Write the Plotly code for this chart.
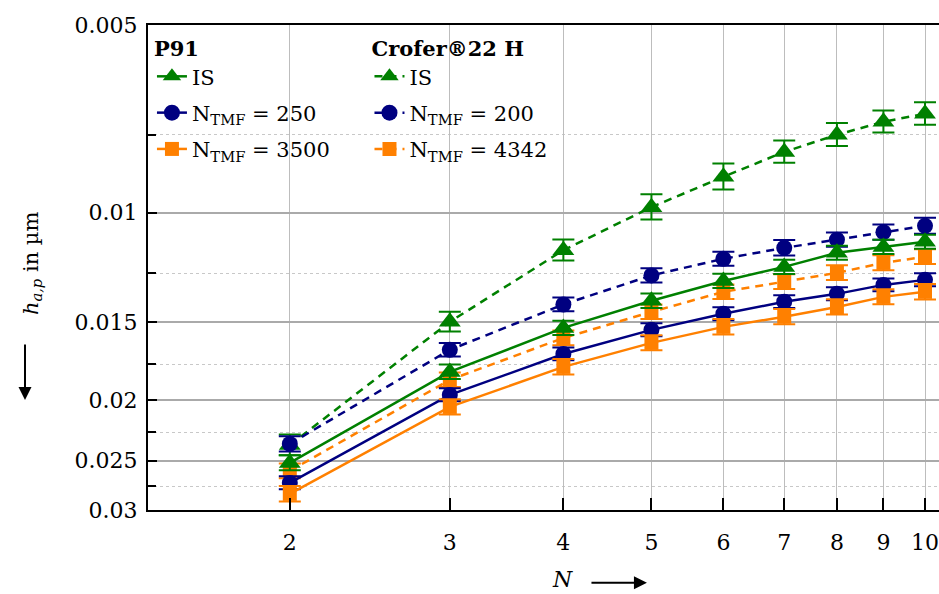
import plotly.graph_objects as go

# ---- data ----
N = [2, 3, 4, 5, 6, 7, 8, 9, 10]

p91_is = [0.02521, 0.01801, 0.01531, 0.01385, 0.01287, 0.01222, 0.01160, 0.01135, 0.01114]
p91_is_err = [0.00070, 0.00048, 0.00040, 0.00037, 0.00034, 0.00032, 0.00030, 0.00030, 0.00029]
p91_250 = [0.02714, 0.01961, 0.01686, 0.01542, 0.01453, 0.01390, 0.01350, 0.01306, 0.01282]
p91_250_err = [0.00065, 0.00047, 0.00040, 0.00037, 0.00035, 0.00033, 0.00032, 0.00031, 0.00031]
p91_3500 = [0.02826, 0.02050, 0.01768, 0.01618, 0.01525, 0.01469, 0.01417, 0.01365, 0.01340]
p91_3500_err = [0.00080, 0.00058, 0.00050, 0.00045, 0.00043, 0.00041, 0.00040, 0.00038, 0.00038]

cro_is = [0.02360, 0.01497, 0.01149, 0.00980, 0.00876, 0.00799, 0.00750, 0.00715, 0.00694]
cro_is_err = [0.00090, 0.00055, 0.00045, 0.00046, 0.00042, 0.00033, 0.00032, 0.00029, 0.00029]
cro_200 = [0.02350, 0.01660, 0.01404, 0.01261, 0.01186, 0.01139, 0.01105, 0.01075, 0.01050]
cro_200_err = [0.00066, 0.00041, 0.00036, 0.00033, 0.00031, 0.00033, 0.00029, 0.00030, 0.00031]
cro_4342 = [0.02597, 0.01855, 0.01589, 0.01443, 0.01340, 0.01291, 0.01249, 0.01204, 0.01177]
cro_4342_err = [0.00070, 0.00050, 0.00043, 0.00039, 0.00036, 0.00035, 0.00034, 0.00033, 0.00032]

x_ticks = [2, 3, 4, 5, 6, 7, 8, 9, 10]
y_ticks = [0.005, 0.01, 0.015, 0.02, 0.025, 0.03]
y_tick_text = ["0.005", "0.01", "0.015", "0.02", "0.025", "0.03"]
y_minor = [0.0075, 0.0125, 0.0175, 0.0225, 0.0275]

GREEN = "#008000"
NAVY = "#000080"
ORANGE = "#FF8000"
FONT = "DejaVu Serif, serif"

series = [
    # name, y, err, color, symbol, dash, legend, marker size
    ("IS", cro_is, cro_is_err, GREEN, "triangle-up", "8px,6px", "legend2", 19),
    ("N<sub>TMF</sub> = 200", cro_200, cro_200_err, NAVY, "circle", "8px,6px", "legend2", 16),
    ("N<sub>TMF</sub> = 4342", cro_4342, cro_4342_err, ORANGE, "square", "8px,6px", "legend2", 14),
    ("IS", p91_is, p91_is_err, GREEN, "triangle-up", "solid", "legend", 19),
    ("N<sub>TMF</sub> = 250", p91_250, p91_250_err, NAVY, "circle", "solid", "legend", 16),
    ("N<sub>TMF</sub> = 3500", p91_3500, p91_3500_err, ORANGE, "square", "solid", "legend", 14),
]

fig = go.Figure()
for i, (name, y, err, col, sym, dash, leg, msize) in enumerate(series):
    fig.add_trace(go.Scatter(
        x=N, y=y, name=name, mode="lines+markers",
        line=dict(color=col, width=2.5, dash=dash),
        marker=dict(color=col, symbol=sym, size=msize),
        error_y=dict(type="data", array=err, visible=True, color=col, thickness=2, width=11),
        legend=leg, legendgroup=f"g{i}", cliponaxis=False,
    ))

fig.update_layout(
    width=939, height=594,
    margin=dict(l=148, r=0, t=25, b=84),
    paper_bgcolor="white", plot_bgcolor="white",
    font=dict(family=FONT, size=21, color="black"),
    showlegend=True,
    legend=dict(
        x=0.005, y=0.992, xanchor="left", yanchor="top",
        bgcolor="rgba(0,0,0,0)", borderwidth=0,
        title=dict(text="<b>P91</b>", font=dict(family=FONT, size=21)),
        font=dict(family=FONT, size=21), tracegroupgap=6, traceorder="grouped",
    ),
    legend2=dict(
        x=0.28, y=0.992, xanchor="left", yanchor="top",
        bgcolor="rgba(0,0,0,0)", borderwidth=0,
        title=dict(text="<b>Crofer®22 H</b>", font=dict(family=FONT, size=21)),
        font=dict(family=FONT, size=21), tracegroupgap=6, traceorder="grouped",
    ),
    xaxis=dict(
        type="log", range=[0.145, 1.0154],
        tickmode="array", tickvals=x_ticks, ticktext=[str(v) for v in x_ticks],
        ticks="inside", ticklen=12, tickwidth=2, tickcolor="black",
        showline=True, linecolor="black", linewidth=2, mirror=True,
        showgrid=True, gridcolor="#bdbdbd", gridwidth=1,
        tickfont=dict(family=FONT, size=22), ticklabelstandoff=12,
        zeroline=False,
    ),
    yaxis=dict(
        type="log", range=[-1.5229, -2.30103],
        tickmode="array", tickvals=y_ticks, ticktext=y_tick_text,
        ticks="inside", ticklen=9, tickwidth=2, tickcolor="black",
        showline=True, linecolor="black", linewidth=2, mirror=False,
        showgrid=True, gridcolor="#aaaaaa", gridwidth=1.5,
        tickfont=dict(family=FONT, size=22), ticklabelstandoff=4,
        minor=dict(tickmode="array", tickvals=y_minor, ticks="inside", ticklen=8,
                   tickwidth=2, tickcolor="black", showgrid=True,
                   gridcolor="#c8c8c8", griddash="dot", gridwidth=1),
        zeroline=False,
    ),
    annotations=[
        dict(text="<i>h</i><sub><i>a,p</i></sub> in µm", textangle=-90,
             xref="paper", yref="paper", x=-0.1467, y=0.509,
             xanchor="center", yanchor="middle", showarrow=False,
             font=dict(family=FONT, size=21)),
        dict(text="", xref="paper", yref="paper", x=-0.1555, y=0.2268,
             ax=0, ay=-57, showarrow=True, arrowhead=2, arrowsize=1.3,
             arrowwidth=2, arrowcolor="black"),
        dict(text="<i>N</i>", xref="paper", yref="paper", x=0.5234, y=-0.143,
             xanchor="center", yanchor="middle", showarrow=False,
             font=dict(family=FONT, size=22)),
        dict(text="", xref="paper", yref="paper", x=0.6308, y=-0.150,
             ax=-57, ay=0, showarrow=True, arrowhead=2, arrowsize=1.3,
             arrowwidth=2, arrowcolor="black"),
    ],
)

fig.write_html("out.html")
